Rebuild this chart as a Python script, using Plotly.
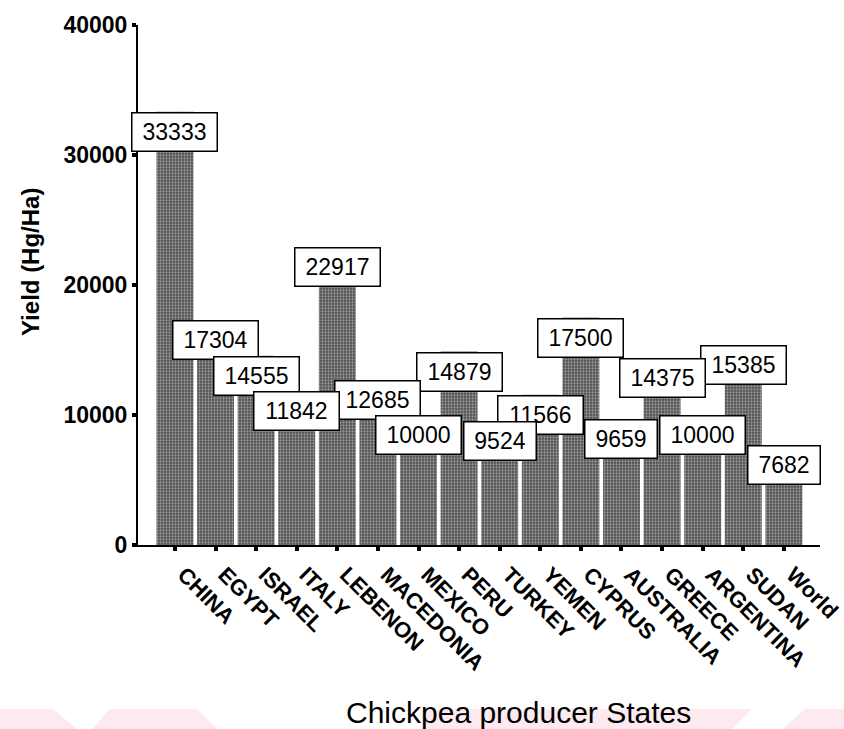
import plotly.graph_objects as go

# Chickpea yield by producer state (Hg/Ha)
states = ["CHINA", "EGYPT", "ISRAEL", "ITALY", "LEBENON", "MACEDONIA", "MEXICO",
          "PERU", "TURKEY", "YEMEN", "CYPRUS", "AUSTRALIA", "GREECE", "ARGENTINA",
          "SUDAN", "World"]
yields = [33333, 17304, 14555, 11842, 22917, 12685, 10000,
          14879, 9524, 11566, 17500, 9659, 14375, 10000,
          15385, 7682]
y_ticks = [0, 10000, 20000, 30000, 40000]

FONT = "Liberation Sans, Arial, sans-serif"

W, H = 844, 729
M_L, M_R, M_T, M_B = 138, 24, 25, 184
PW, PH = W - M_L - M_R, H - M_T - M_B


def px_to_paper(px, py):
    return (px - M_L) / PW, (H - M_B - py) / PH


fig = go.Figure()

fig.add_trace(go.Bar(
    x=states,
    y=yields,
    marker=dict(
        color="#4c4c4c",
        line=dict(width=0),
        pattern=dict(shape=".", fgcolor="#e4e4e4", size=3, solidity=0.45),
    ),
    hoverinfo="x+y",
))

# value boxes: top edge sits at the bar's value; lower values are drawn last
annotations = []
order = sorted(range(len(states)), key=lambda i: -yields[i])
for i in order:
    s, v = states[i], yields[i]
    txt = str(v)
    annotations.append(dict(
        x=s, y=v, xref="x", yref="y",
        text=txt, showarrow=False,
        xanchor="center", yanchor="top",
        width=13 * len(txt) + 13, height=31,
        bgcolor="white", bordercolor="black", borderwidth=1.5, borderpad=3,
        font=dict(family=FONT, size=23, color="black"),
    ))

# axis titles
tx, ty = px_to_paper(30, 262)
annotations.append(dict(
    x=tx, y=ty, xref="paper", yref="paper", showarrow=False,
    text="<b>Yield (Hg/Ha)</b>", textangle=-90,
    xanchor="center", yanchor="middle",
    font=dict(family=FONT, size=24, color="black"),
))
tx, ty = px_to_paper(518, 712)
annotations.append(dict(
    x=tx, y=ty, xref="paper", yref="paper", showarrow=False,
    text="Chickpea producer States",
    xanchor="center", yanchor="middle",
    font=dict(family=FONT, size=30, color="black"),
))

# faint pink band along the bottom edge
band_polys = [
    [(0, 709), (53, 709), (77, 729), (0, 729)],
    [(110, 709), (197, 709), (217, 729), (92, 729)],
    [(422, 709), (752, 709), (732, 729), (422, 729)],
    [(805, 709), (844, 709), (844, 729), (782, 729)],
]
shapes = []
for poly in band_polys:
    pts = [px_to_paper(a, b) for a, b in poly]
    path = "M " + " L ".join(f"{a:.4f},{b:.4f}" for a, b in pts) + " Z"
    shapes.append(dict(type="path", xref="paper", yref="paper", path=path,
                       fillcolor="#fdeaef", line=dict(width=0), layer="below"))

fig.update_layout(
    width=W, height=H,
    margin=dict(l=M_L, r=M_R, t=M_T, b=M_B, autoexpand=False),
    paper_bgcolor="white", plot_bgcolor="white",
    showlegend=False,
    bargap=0.09,
    annotations=annotations,
    shapes=shapes,
    font=dict(family=FONT, color="black"),
)

fig.update_xaxes(
    range=[-0.91, 15.89], automargin=False,
    showline=True, linecolor="black", linewidth=2,
    ticks="outside", ticklen=4, tickwidth=4, tickcolor="black",
    tickangle=45, ticklabelshift=9, ticklabelstandoff=2,
    tickfont=dict(family=FONT, size=22, color="black", weight="bold"),
    showgrid=False, zeroline=False,
)
fig.update_yaxes(
    range=[0, 40000], automargin=False,
    tickvals=y_ticks, ticktext=[str(t) for t in y_ticks],
    showline=True, linecolor="black", linewidth=2,
    ticks="outside", ticklen=4, tickwidth=4, tickcolor="black",
    tickfont=dict(family=FONT, size=23, color="black", weight="bold"),
    showgrid=False, zeroline=False,
)

fig.write_html("out.html")
